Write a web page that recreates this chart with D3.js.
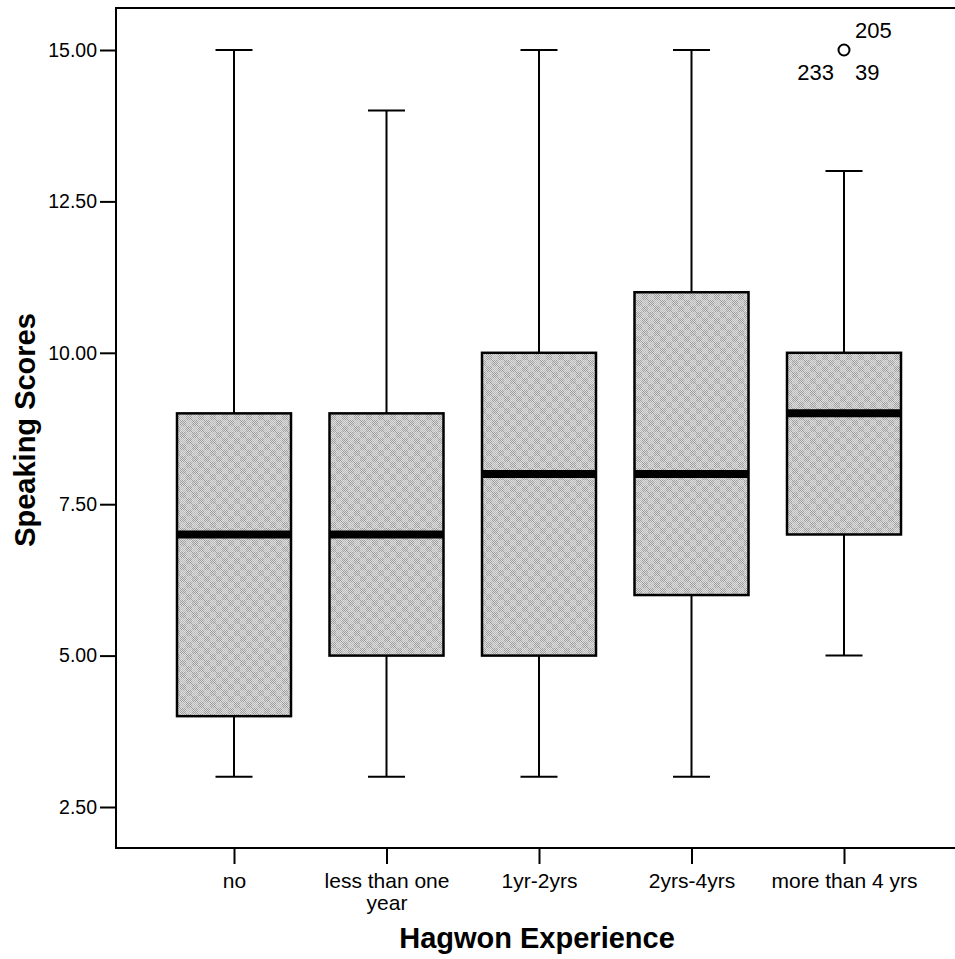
<!DOCTYPE html>
<html>
<head>
<meta charset="utf-8">
<script src="https://cdn.jsdelivr.net/npm/d3@7"></script>
<style>
  html, body { margin: 0; padding: 0; background: #fff; }
  svg { display: block; font-family: "Liberation Sans", Arial, sans-serif; }
</style>
</head>
<body>
<script>
// ---- data ----
const categories = ["no", "less than one year", "1yr-2yrs", "2yrs-4yrs", "more than 4 yrs"];
const whiskerLow  = [3, 3, 3, 3, 5];
const q1          = [4, 5, 5, 6, 7];
const median      = [7, 7, 8, 8, 9];
const q3          = [9, 9, 10, 11, 10];
const whiskerHigh = [15, 14, 15, 15, 13];
const outlierCategory = ["more than 4 yrs"];
const outlierValue = [15];
const outlierLabels = ["205", "233", "39"];
const yTicks = [2.5, 5, 7.5, 10, 12.5, 15];

const W = 955, H = 959;
const frame = { left: 116, right: 955, top: 8, bottom: 848 };
const FONT = "'Liberation Sans', Arial, sans-serif";

const svg = d3.select("body").append("svg").attr("width", W).attr("height", H);

const defs = svg.append("defs");
const pat = defs.append("pattern").attr("id", "dither").attr("patternUnits", "userSpaceOnUse")
  .attr("width", 12).attr("height", 12);
pat.append("rect").attr("width", 12).attr("height", 12).attr("fill", "#dcdcdc");
for (let i = 0; i < 12; i++) {
  for (let j = 0; j < 12; j++) {
    if ((i + j) % 2 === 0) {
      const dark = ((Math.floor(i / 6) + Math.floor(j / 6)) % 2 === 0);
      pat.append("rect").attr("x", i).attr("y", j).attr("width", 1).attr("height", 1)
        .attr("fill", dark ? "#9c9c9c" : "#bababa");
    }
  }
}

const y = d3.scaleLinear()
  .domain([2.5 - (frame.bottom - 807) / 60.56, 15 + (50 - frame.top) / 60.56])
  .range([frame.bottom, frame.top]);
const x = d3.scalePoint().domain(categories).range([234, 844]);

const boxW = 114, capW = 37;

// frame (top, left, bottom)
svg.append("path")
  .attr("d", `M${frame.right},${frame.top}H${frame.left}V${frame.bottom}H${frame.right}`)
  .attr("fill", "none").attr("stroke", "#000").attr("stroke-width", 2);

// y axis
const yAxis = d3.axisLeft(y).tickValues(yTicks).tickFormat(d3.format(".2f")).tickSize(16).tickPadding(3);
const gy = svg.append("g").attr("transform", `translate(${frame.left},0)`).call(yAxis);
gy.select(".domain").remove();
gy.selectAll("line").attr("stroke", "#000").attr("stroke-width", 2);
gy.selectAll("text").attr("font-size", 19.5).attr("fill", "#000").attr("font-family", FONT);

// x axis
const xAxis = d3.axisBottom(x).tickSize(16).tickPadding(10);
const gx = svg.append("g").attr("transform", `translate(0,${frame.bottom})`).call(xAxis);
gx.select(".domain").remove();
gx.selectAll("line").attr("stroke", "#000").attr("stroke-width", 2);
gx.selectAll("text").attr("font-size", 21).attr("fill", "#000").attr("font-family", FONT)
  .attr("dy", null).attr("y", 40)
  .each(function(d) {
    const t = d3.select(this);
    if (d === "less than one year") {
      t.text(null);
      t.append("tspan").attr("x", 0).attr("y", 40).text("less than one");
      t.append("tspan").attr("x", 0).attr("y", 62).text("year");
    }
  });

// boxes
const data = categories.map((c, i) => ({ c, lo: whiskerLow[i], q1: q1[i], med: median[i], q3: q3[i], hi: whiskerHigh[i] }));
const g = svg.append("g");
const bx = g.selectAll("g.box").data(data).join("g").attr("class", "box");

bx.append("line").attr("x1", d => x(d.c)).attr("x2", d => x(d.c))
  .attr("y1", d => y(d.hi)).attr("y2", d => y(d.q3)).attr("stroke", "#000").attr("stroke-width", 2);
bx.append("line").attr("x1", d => x(d.c)).attr("x2", d => x(d.c))
  .attr("y1", d => y(d.q1)).attr("y2", d => y(d.lo)).attr("stroke", "#000").attr("stroke-width", 2);
bx.append("line").attr("x1", d => x(d.c) - capW / 2).attr("x2", d => x(d.c) + capW / 2)
  .attr("y1", d => y(d.hi)).attr("y2", d => y(d.hi)).attr("stroke", "#000").attr("stroke-width", 2);
bx.append("line").attr("x1", d => x(d.c) - capW / 2).attr("x2", d => x(d.c) + capW / 2)
  .attr("y1", d => y(d.lo)).attr("y2", d => y(d.lo)).attr("stroke", "#000").attr("stroke-width", 2);
bx.append("rect").attr("x", d => x(d.c) - boxW / 2).attr("width", boxW)
  .attr("y", d => y(d.q3)).attr("height", d => y(d.q1) - y(d.q3))
  .attr("fill", "url(#dither)").attr("stroke", "#000").attr("stroke-width", 2.5);
bx.append("line").attr("x1", d => x(d.c) - boxW / 2).attr("x2", d => x(d.c) + boxW / 2)
  .attr("y1", d => y(d.med)).attr("y2", d => y(d.med)).attr("stroke", "#000").attr("stroke-width", 8);

// outliers
outlierCategory.forEach((c, i) => {
  const cx = x(c), cy = y(outlierValue[i]);
  svg.append("circle").attr("cx", cx).attr("cy", cy).attr("r", 5.5)
    .attr("fill", "none").attr("stroke", "#000").attr("stroke-width", 2);
  const lab = svg.append("g").attr("font-size", 22).attr("fill", "#000").attr("font-family", FONT);
  lab.append("text").attr("x", cx + 11).attr("y", cy - 12).text(outlierLabels[0]);
  lab.append("text").attr("x", cx - 10).attr("y", cy + 30).attr("text-anchor", "end").text(outlierLabels[1]);
  lab.append("text").attr("x", cx + 11).attr("y", cy + 30).text(outlierLabels[2]);
});

// axis titles
svg.append("text").attr("transform", `translate(35,${(frame.top + frame.bottom) / 2 + 2}) rotate(-90)`)
  .attr("text-anchor", "middle").attr("font-size", 29).attr("font-weight", "bold").attr("font-family", FONT)
  .text("Speaking Scores");
svg.append("text").attr("x", 537).attr("y", 948).attr("text-anchor", "middle")
  .attr("font-size", 29).attr("font-weight", "bold").attr("font-family", FONT)
  .text("Hagwon Experience");
</script>
</body>
</html>
